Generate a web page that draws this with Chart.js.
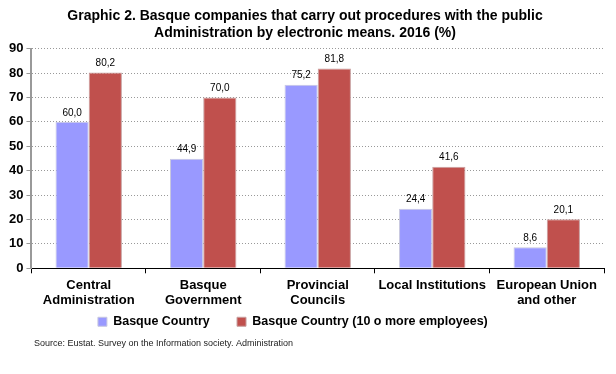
<!DOCTYPE html>
<html>
<head>
<meta charset="utf-8">
<script src="https://cdn.jsdelivr.net/npm/chart.js"></script>
<style>
html,body{margin:0;padding:0;background:#fff;}
canvas{display:block;}
</style>
</head>
<body>
<canvas id="c" width="616" height="374"></canvas>
<script>
const categories = [["Central","Administration"],["Basque","Government"],["Provincial","Councils"],["Local Institutions"],["European Union","and other"]];
const seriesNames = ["Basque Country","Basque Country (10 o more employees)"];
const basqueCountry = [60.0, 44.9, 75.2, 24.4, 8.6];
const basqueCountry10 = [80.2, 70.0, 81.8, 41.6, 20.1];
const yTicks = [0,10,20,30,40,50,60,70,80,90];
const titleLines = ["Graphic 2. Basque companies that carry out procedures with the public","Administration by electronic means. 2016 (%)"];
const sourceText = "Source: Eustat. Survey on the Information society. Administration";

const FONT = "'Liberation Sans', Arial, sans-serif";
const LEGEND_PAD = "       "; // extra horizontal room after each legend entry

const dataLabels = {
  id: 'dataLabels',
  afterDatasetsDraw(chart) {
    const ctx = chart.ctx;
    ctx.save();
    ctx.font = "10px " + FONT;
    ctx.fillStyle = "#000";
    ctx.textAlign = "center";
    ctx.textBaseline = "bottom";
    chart.data.datasets.forEach((ds, i) => {
      const meta = chart.getDatasetMeta(i);
      meta.data.forEach((el, j) => {
        const v = ds.data[j];
        ctx.fillText(v.toFixed(1).replace('.', ','), el.x, el.y - 4);
      });
    });
    ctx.restore();
  }
};

const sourcePlugin = {
  id: 'sourceText',
  afterDraw(chart) {
    const ctx = chart.ctx;
    ctx.save();
    ctx.font = "9px " + FONT;
    ctx.fillStyle = "#222";
    ctx.textAlign = "left";
    ctx.textBaseline = "middle";
    ctx.fillText(sourceText, 34, 344);
    ctx.restore();
  }
};

new Chart(document.getElementById('c'), {
  type: 'bar',
  data: {
    labels: categories,
    datasets: [
      { label: seriesNames[0], data: basqueCountry, backgroundColor: '#9999FF', borderColor: '#C8C8E0', borderWidth: 1 },
      { label: seriesNames[1], data: basqueCountry10, backgroundColor: '#C0504D', borderColor: '#C8A0A0', borderWidth: 1 }
    ]
  },
  options: {
    responsive: false,
    animation: false,
    devicePixelRatio: 1,
    layout: { padding: { left: 6, right: 12, top: 0, bottom: 36 } },
    categoryPercentage: 0.58,
    barPercentage: 1.0,
    plugins: {
      title: {
        display: true,
        text: titleLines,
        font: { family: FONT, size: 14, weight: 'bold' },
        color: '#000',
        padding: { top: 8, bottom: 7 },
        lineHeight: 1.2
      },
      legend: {
        position: 'bottom',
        labels: {
          boxWidth: 9, boxHeight: 9,
          font: { family: FONT, size: 12.5, weight: 'bold' },
          color: '#000',
          padding: 3,
          generateLabels(chart) {
            const items = Chart.defaults.plugins.legend.labels.generateLabels(chart);
            items.forEach(it => { it.text = it.text + LEGEND_PAD; });
            return items;
          }
        }
      },
      tooltip: { enabled: false }
    },
    scales: {
      x: {
        grid: { display: true, drawOnChartArea: false, tickLength: 5, tickColor: '#000', offset: true },
        border: { color: '#000', width: 1 },
        ticks: { font: { family: FONT, size: 13, weight: 'bold' }, color: '#000', maxRotation: 0, autoSkip: false, padding: 4 }
      },
      y: {
        min: 0, max: 90,
        afterBuildTicks(axis) { axis.ticks = yTicks.map(v => ({ value: v })); },
        grid: { color: '#999', tickLength: 5, tickColor: '#999', tickBorderDash: [], lineWidth: 1 },
        border: { color: '#999', width: 2, dash: [1, 2] },
        ticks: { font: { family: FONT, size: 13, weight: 'bold' }, color: '#000', padding: 3 }
      }
    }
  },
  plugins: [dataLabels, sourcePlugin]
});
</script>
</body>
</html>
